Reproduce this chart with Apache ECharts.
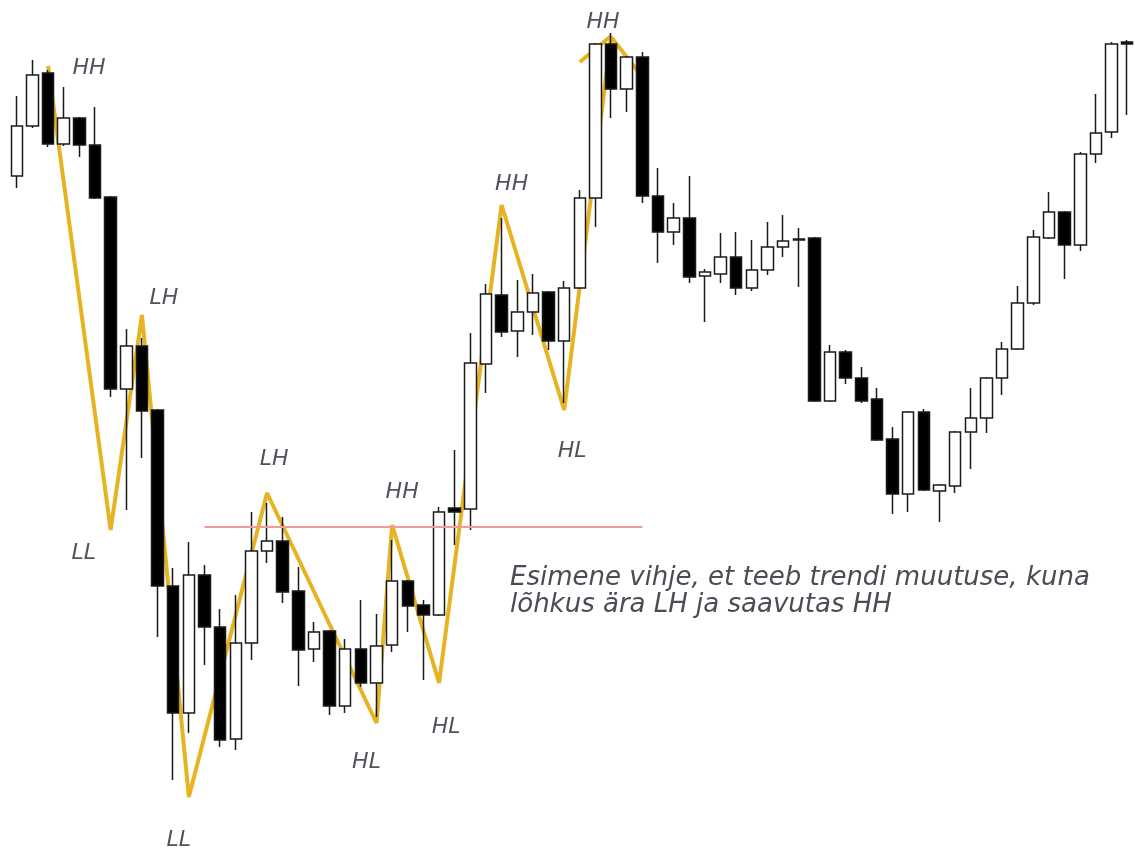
<!DOCTYPE html>
<html>
<head>
<meta charset="utf-8">
<title>Trendi muutus</title>
<script src="https://cdn.jsdelivr.net/npm/echarts@6/dist/echarts.min.js"></script>
<style>
    html, body { margin: 0; padding: 0; background: #fff; }
    #chart { width: 1135px; height: 853px; }
</style>
</head>
<body>
<div id="chart"></div>
<script>
// kuunlad: avamine, sulgemine, madalaim, korgeim
var opens  = [824,874,927,856,882,855,803,611,654,590,414,287,425,373,261,357,449,459,409,351,369,294,351,317,355,419,395,385,492,491,636,705,669,688,708,659,712,802,956,911,943,804,768,782,724,726,743,712,730,753,761,762,599,648,622,601,561,506,588,509,514,568,582,622,651,697,762,788,755,846,868,958];
var closes = [874,925,856,882,855,802,611,654,589,414,287,425,373,260,357,449,459,408,350,368,294,351,317,354,419,394,385,488,488,637,706,668,688,707,659,712,802,956,911,943,804,768,782,723,728,743,712,730,753,759,760,599,648,622,599,560,506,588,510,515,568,582,622,651,697,763,788,755,846,867,956,956];
var lows   = [812,872,853,854,843,801,603,490,542,363,220,267,335,253,250,340,437,397,314,338,285,287,313,283,348,368,320,384,455,470,607,663,643,665,650,597,711,773,882,888,797,737,755,717,678,717,705,709,725,743,713,598,598,616,597,559,486,488,509,478,507,531,567,605,650,695,761,721,749,837,862,885];
var highs  = [904,940,930,913,883,893,804,671,662,591,432,458,435,391,405,488,497,483,433,378,370,361,400,386,460,420,400,493,550,667,716,782,720,726,709,719,810,957,967,944,948,832,797,824,731,767,768,760,778,785,772,763,655,650,633,612,573,589,591,516,569,612,623,658,714,770,808,789,848,906,958,960];

// siksak: kuunla indeks, hind, silt
var zzIdx   = [2, 6, 8, 11, 16, 23, 24, 27, 31, 35, 38, 40];
var zzVal   = [934, 470, 685, 203, 507, 277, 475, 317, 795, 590, 963, 923];
var zzNames = ['HH', 'LL', 'LH', 'LL', 'LH', 'HL', 'HH', 'HL', 'HH', 'HL', 'HH', ''];
// vaike lisakriips tipus
var tipIdx = [36, 38];
var tipVal = [938, 964];

// horisontaalne tase
var levelVal = 473;
var levelFrom = 12;
var levelTo = 40;

var noteText = 'Esimene vihje, et teeb trendi muutuse, kuna\nlõhkus ära LH ja saavutas HH';

// sildi nihked (px) iga tipu juures
var zzOffsets = [[41,2],[-27,23],[22,-17],[-10,43],[7,-34],[-10,39],[10,-33],[7,44],[10,-21],[8,41],[-8,-15],[0,0]];

var categories = [];
var candles = [];
for (var i = 0; i < opens.length; i++) {
    categories.push(String(i + 1));
    candles.push([opens[i], closes[i], lows[i], highs[i]]);
}

var zzData = zzIdx.map(function (x, i) {
    return {
        value: [x, zzVal[i]],
        label: {
            show: zzNames[i] !== '',
            formatter: zzNames[i],
            offset: zzOffsets[i]
        }
    };
});

var myChart = echarts.init(document.getElementById('chart'));

var option = {
    animation: false,
    backgroundColor: '#fff',
    grid: { left: 9, width: 1130, top: 0, bottom: 0 },
    xAxis: {
        type: 'category',
        data: categories,
        boundaryGap: true,
        show: false
    },
    yAxis: {
        type: 'value',
        min: 147,
        max: 1000,
        show: false,
        splitLine: { show: false }
    },
    graphic: [{
        type: 'text',
        left: 510,
        top: 565,
        style: {
            text: noteText,
            font: 'italic 26px "DejaVu Sans"',
            fill: '#4a4d55',
            lineHeight: 27
        }
    }],
    series: [
        {
            name: 'siksak',
            type: 'line',
            z: 1,
            data: zzData,
            symbol: 'circle',
            symbolSize: 1,
            showSymbol: true,
            itemStyle: { color: 'rgba(0,0,0,0)' },
            lineStyle: { color: '#e6b322', width: 4 },
            label: {
                position: 'inside',
                color: '#50535c',
                fontFamily: 'DejaVu Sans',
                fontStyle: 'italic',
                fontSize: 22,
                align: 'center',
                verticalAlign: 'middle'
            }
        },
        {
            name: 'tipp',
            type: 'line',
            z: 1,
            data: tipIdx.map(function (x, i) { return [x, tipVal[i]]; }),
            showSymbol: false,
            lineStyle: { color: '#e6b322', width: 4 }
        },
        {
            name: 'kuunlad',
            type: 'candlestick',
            z: 2,
            data: candles,
            barWidth: 12,
            itemStyle: {
                color: '#ffffff',
                color0: '#000000',
                borderColor: '#1a1a1a',
                borderColor0: '#1a1a1a',
                borderWidth: 1.5
            },
            markLine: {
                silent: true,
                symbol: 'none',
                label: { show: false },
                lineStyle: { color: '#f29b9b', width: 2, type: 'solid' },
                data: [[
                    { coord: [levelFrom, levelVal] },
                    { coord: [levelTo, levelVal] }
                ]]
            }
        }
    ]
};
myChart.setOption(option);
</script>
</body>
</html>
